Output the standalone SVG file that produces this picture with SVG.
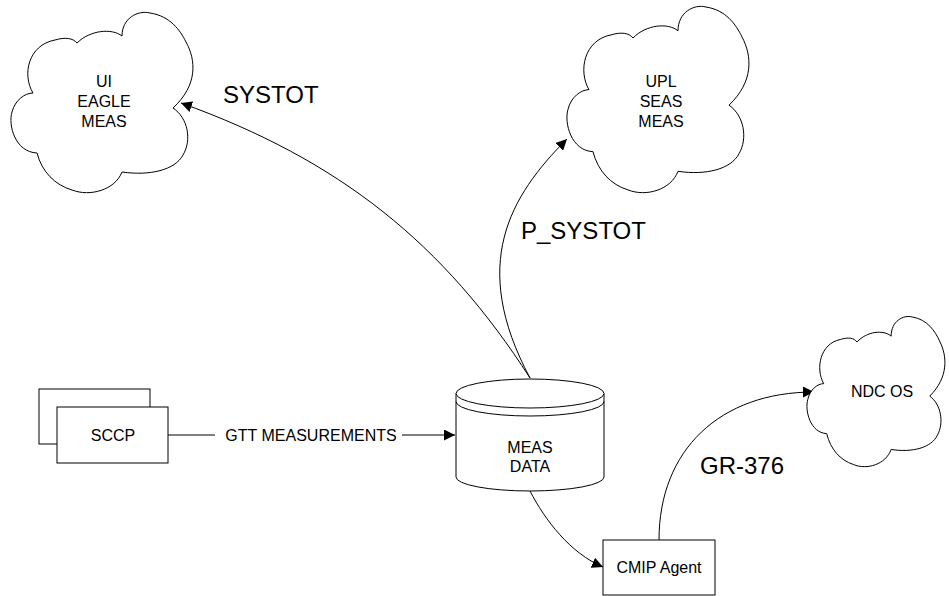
<svg xmlns="http://www.w3.org/2000/svg" xmlns:xlink="http://www.w3.org/1999/xlink" width="949" height="596" viewBox="0 0 949 596">
<style>
.shape{fill:#fff;stroke:#000;stroke-width:1}
.conn{fill:none;stroke:#000;stroke-width:1}
.t{font-family:"Liberation Sans",Arial,sans-serif;font-size:16px;fill:#000;text-anchor:middle}
.big{font-family:"Liberation Sans",Arial,sans-serif;font-size:24px;fill:#000}
</style>
<defs>
<marker id="arr" markerUnits="userSpaceOnUse" markerWidth="11" markerHeight="11" refX="10" refY="5" orient="auto" viewBox="0 0 10 10">
<path d="M0,0 L10,5 L0,10 z" fill="#000"/>
</marker>
<path id="cloud" vector-effect="non-scaling-stroke" d="M 33,93 C 22,75 28,45 55,40 C 65,37 73,38 77,43 C 90,30 112,28 122,36 C 122,18 138,10 150,13 C 170,16 180,30 186,42 C 196,60 198,85 173,108 C 188,118 192,140 183,155 C 175,170 150,176 122,172 C 115,190 90,197 72,190 C 55,185 42,172 37,153 C 15,152 8,125 12,112 C 15,100 25,93 33,93 Z"/>
</defs>
<rect width="949" height="596" fill="#fff"/>

<g id="connectors">
<path class="conn" d="M 530,378 C 444,244 340,160 181,103" marker-end="url(#arr)"/>
<path class="conn" d="M 530,378 C 469,264 510,196 567,139" marker-end="url(#arr)"/>
<path class="conn" d="M 168,435 L 455,435" marker-end="url(#arr)"/>
<rect x="215" y="425" width="187" height="20" fill="#fff"/>
<text class="t" x="311" y="441">GTT MEASUREMENTS</text>
<path class="conn" d="M 530,491 C 545,520 570,553 603,567" marker-end="url(#arr)"/>
<path class="conn" d="M 659,540 C 659,450 720,392 814,392" marker-end="url(#arr)"/>
<text class="big" x="223" y="103">SYSTOT</text>
<text class="big" x="521" y="239">P_SYSTOT</text>
<text class="big" x="700" y="474">GR-376</text>
</g>

<g id="ui-eagle-meas">
<use xlink:href="#cloud" class="shape"/>
<text class="t" x="104" y="87">UI</text>
<text class="t" x="104" y="107">EAGLE</text>
<text class="t" x="104" y="127">MEAS</text>
</g>

<g id="upl-seas-meas">
<use xlink:href="#cloud" class="shape" transform="matrix(1 0 0 1.0333 556 -6.43)"/>
<text class="t" x="661" y="87">UPL</text>
<text class="t" x="661" y="107">SEAS</text>
<text class="t" x="661" y="127">MEAS</text>
</g>

<g id="ndc-os">
<use xlink:href="#cloud" class="shape" transform="matrix(0.758 0 0 0.833 798.66 306.17)"/>
<text class="t" x="882" y="397">NDC OS</text>
</g>

<g id="sccp">
<rect class="shape" x="39" y="389" width="111" height="55"/>
<rect class="shape" x="57" y="407" width="111" height="56"/>
<text class="t" x="113" y="441">SCCP</text>
</g>

<g id="meas-data">
<path class="shape" d="M 456,393.5 L 456,477 A 74 14 0 0 0 604,477 L 604,393.5"/>
<ellipse class="shape" cx="530" cy="393.5" rx="74" ry="14.5"/>
<path class="conn" d="M 456,401.5 A 74 14.5 0 0 0 604,401.5"/>
<text class="t" x="530" y="453">MEAS</text>
<text class="t" x="530" y="472">DATA</text>
</g>

<g id="cmip-agent">
<rect class="shape" x="603" y="540" width="112" height="55"/>
<text class="t" x="659" y="573">CMIP Agent</text>
</g>
</svg>
